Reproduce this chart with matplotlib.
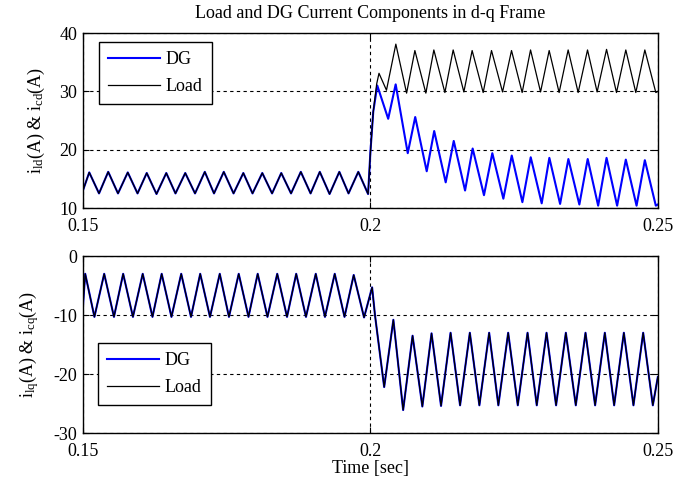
import matplotlib
matplotlib.use("Agg")
import matplotlib.pyplot as plt

plt.rcParams['font.family'] = ['Liberation Serif', 'DejaVu Serif']
plt.rcParams['mathtext.fontset'] = 'custom'
plt.rcParams['mathtext.rm'] = 'Liberation Serif'
plt.rcParams['mathtext.it'] = 'Liberation Serif:italic'
plt.rcParams['axes.unicode_minus'] = False

# d-axis, before the step (DG and load overlap)
d_pre_t = [0.1500, 0.1511, 0.1528, 0.1544, 0.1561, 0.1578, 0.1595, 0.1611, 0.1628, 0.1645,
           0.1661, 0.1678, 0.1695, 0.1712, 0.1728, 0.1745, 0.1762, 0.1779, 0.1795, 0.1812,
           0.1829, 0.1845, 0.1862, 0.1879, 0.1896, 0.1912, 0.1929, 0.1946, 0.1962, 0.1979,
           0.1996, 0.2000, 0.2005]
d_pre_v = [13.0, 16.1, 12.5, 16.2, 12.5, 16.1, 12.5, 16.0, 12.4, 16.0,
           12.5, 16.0, 12.5, 16.2, 12.5, 16.2, 12.5, 16.0, 12.5, 16.0,
           12.5, 16.0, 12.5, 16.2, 12.5, 16.2, 12.4, 16.2, 12.5, 16.2,
           12.4, 19.5, 26.5]

# d-axis, DG after the step
dg_d_t = [0.2012, 0.2031, 0.2044, 0.2065, 0.2078, 0.2098, 0.2111, 0.2131, 0.2145,
          0.21647, 0.21779, 0.21976, 0.22121, 0.22313, 0.22459, 0.22644, 0.22789,
          0.22980, 0.23113, 0.23300, 0.23444, 0.23635, 0.23780, 0.23962, 0.24108,
          0.24292, 0.24443, 0.24630, 0.24774, 0.24965, 0.2500]
dg_d_v = [31.0, 25.3, 31.2, 19.4, 25.6, 16.3, 23.2, 14.4, 21.5,
          13.0, 20.2, 12.2, 19.4, 11.6, 19.0, 11.0, 18.7,
          10.8, 18.6, 10.7, 18.4, 10.6, 18.4, 10.4, 18.6,
          10.4, 18.3, 10.4, 18.2, 10.4, 10.6]

# d-axis, load after the step
ld_d_t = [0.2011, 0.2015, 0.2028, 0.20443, 0.20630, 0.20774, 0.20965, 0.21104, 0.21296,
          0.21440, 0.21626, 0.21770, 0.21962, 0.22107, 0.22299, 0.22455, 0.22640,
          0.22786, 0.22960, 0.23110, 0.23283, 0.23440, 0.23614, 0.23777, 0.23944,
          0.24108, 0.24281, 0.24443, 0.24617, 0.24774, 0.24965, 0.2500]
ld_d_v = [31.3, 33.1, 30.2, 38.1, 29.7, 37.0, 29.7, 37.1, 29.8,
          37.1, 29.9, 37.0, 29.8, 37.0, 29.9, 37.0, 29.8,
          37.1, 29.9, 37.0, 29.8, 37.1, 29.8, 37.1, 29.9,
          37.2, 29.8, 37.1, 29.8, 37.1, 29.8, 30.0]

# q-axis (DG and load overlap over the whole window)
q_t = [0.1500, 0.1504, 0.1520, 0.1537, 0.1554, 0.1570, 0.1587, 0.1604, 0.1621, 0.1637,
       0.1654, 0.1671, 0.1688, 0.1704, 0.1721, 0.1738, 0.1754, 0.1771, 0.1788, 0.1804,
       0.1821, 0.1838, 0.1855, 0.1871, 0.1888, 0.1905, 0.1921, 0.1938, 0.1955, 0.1971,
       0.1989, 0.2003, 0.2008, 0.2024, 0.2040, 0.2057,
       0.20734, 0.20904, 0.21064, 0.21229, 0.21395, 0.21560, 0.21730, 0.21896,
       0.22066, 0.22226, 0.22397, 0.22564, 0.22734, 0.22894, 0.23064, 0.23230,
       0.23400, 0.23573, 0.23742, 0.23909, 0.24078, 0.24240, 0.24409, 0.24576,
       0.24745, 0.24913, 0.2500]
q_v = [-8.5, -3.0, -10.3, -3.0, -10.3, -3.0, -10.3, -3.0, -10.3, -3.0,
       -10.3, -3.0, -10.3, -3.0, -10.3, -3.0, -10.3, -3.0, -10.3, -3.0,
       -10.3, -3.0, -10.3, -3.0, -10.3, -3.0, -10.3, -3.0, -10.3, -3.2,
       -10.4, -5.3, -10.0, -22.2, -10.8, -26.1,
       -13.5, -25.5, -13.1, -25.4, -13.0, -25.3, -13.0, -25.3,
       -13.0, -25.3, -13.0, -25.3, -13.0, -25.3, -13.0, -25.3,
       -13.0, -25.3, -13.0, -25.3, -13.0, -25.3, -13.0, -25.3,
       -13.0, -25.3, -20.5]

x_ticks = [0.15, 0.2, 0.25]
x_labels = ['0.15', '0.2', '0.25']
yd_ticks = [10, 20, 30, 40]
yq_ticks = [-30, -20, -10, 0]

fig = plt.figure(figsize=(6.91, 4.86), dpi=100)
ax1 = fig.add_axes([0.120, 0.572, 0.832, 0.360])
ax2 = fig.add_axes([0.120, 0.109, 0.832, 0.364])

fs = 13

ax1.plot(d_pre_t + dg_d_t, d_pre_v + dg_d_v, color='#0000ff', lw=1.5, label='DG')
ax1.plot(d_pre_t + ld_d_t, d_pre_v + ld_d_v, color='black', lw=0.9, label='Load')
ax2.plot(q_t, q_v, color='#0000ff', lw=1.5, label='DG')
ax2.plot(q_t, q_v, color='black', lw=0.9, label='Load')

for ax, yt in [(ax1, yd_ticks), (ax2, yq_ticks)]:
    ax.set_xlim(0.15, 0.25)
    ax.set_ylim(yt[0], yt[-1])
    ax.set_xticks(x_ticks)
    ax.set_xticklabels(x_labels)
    ax.set_yticks(yt)
    ax.grid(True, color='black', linestyle=(0, (3, 3)), linewidth=0.8)
    ax.tick_params(direction='in', top=True, right=True, labelsize=fs, length=4)
    ax.tick_params(axis='x', pad=7)
    ax.tick_params(axis='y', pad=4)
    for s in ax.spines.values():
        s.set_linewidth(1.0)

ax1.set_title('Load and DG Current Components in d-q Frame', fontsize=fs, pad=11)
ax1.set_ylabel(r'i$_{\mathrm{ld}}$(A) & i$_{\mathrm{cd}}$(A)', fontsize=fs, labelpad=9)
ax2.set_ylabel(r'i$_{\mathrm{lq}}$(A) & i$_{\mathrm{cq}}$(A)', fontsize=fs, labelpad=9)
ax2.set_xlabel('Time [sec]', fontsize=fs, labelpad=0)

leg_kw = dict(fontsize=fs, fancybox=False, edgecolor='black', framealpha=1,
              handlelength=2.9, handletextpad=0.3, borderpad=0.5, labelspacing=0.55,
              borderaxespad=0)
l1 = ax1.legend(loc='upper left', bbox_to_anchor=(0.028, 0.949), **leg_kw)
l2 = ax2.legend(loc='upper left', bbox_to_anchor=(0.026, 0.508), **leg_kw)
for l in (l1, l2):
    l.get_frame().set_linewidth(1.0)

fig.savefig('out.png', dpi=100)
